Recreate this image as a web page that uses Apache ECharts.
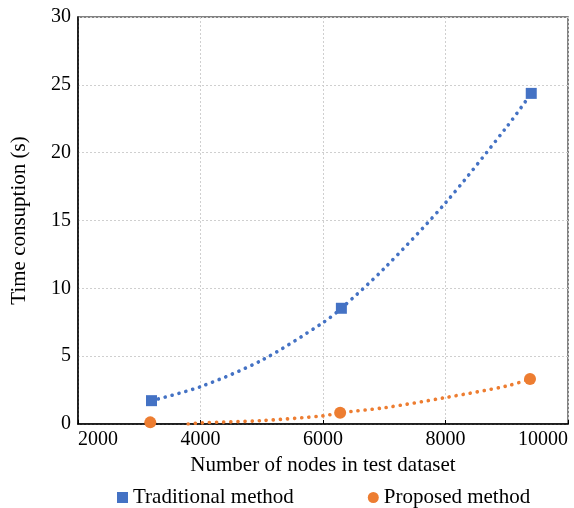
<!DOCTYPE html>
<html>
<head>
<meta charset="utf-8">
<script src="https://cdn.jsdelivr.net/npm/echarts@6/dist/echarts.min.js"></script>
<style>
  html, body { margin: 0; padding: 0; background: #fff; }
  #chart { width: 574px; height: 508px; }
</style>
</head>
<body>
<div id="chart"></div>
<script>
// measured points
var tradX = [3200, 6300, 9400];
var tradY = [1.72, 8.53, 24.37];
var propX = [3180, 6280, 9380];
var propY = [0.12, 0.83, 3.32];

// dotted trend lines
var tradTrendX = [3200, 4000, 5000, 6000, 6300, 7000, 8000, 9000, 9400];
var tradTrendY = [1.72, 2.75, 4.7, 7.47, 8.53, 11.47, 16.3, 21.9, 24.37];
var propTrendX = [3800, 4000, 5000, 6000, 6280, 7000, 8000, 9000, 9380];
var propTrendY = [0, 0.08, 0.25, 0.6, 0.83, 1.2, 1.95, 2.8, 3.32];

var blue = "#4472C4";
var orange = "#ED7D31";
var font = "'Liberation Serif', 'Times New Roman', serif";

function pairs(xs, ys) {
  return xs.map(function (x, i) { return [x, ys[i]]; });
}

var chart = echarts.init(document.getElementById("chart"));
chart.setOption({
  animation: false,
  textStyle: { fontFamily: font },
  grid: {
    left: 78, right: 6, top: 17, bottom: 84,
    show: true, borderColor: "#595959", borderWidth: 1.5
  },
  legend: {
    left: 112, top: 482,
    itemGap: 74, itemWidth: 11, itemHeight: 11,
    textStyle: { fontFamily: font, fontSize: 21, color: "#000" },
    data: [
      { name: "Traditional method", icon: "rect" },
      { name: "Proposed method", icon: "circle" }
    ]
  },
  xAxis: {
    type: "value",
    min: 2000, max: 10000, interval: 2000,
    name: "Number of nodes in test dataset",
    nameLocation: "middle", nameGap: 31,
    nameTextStyle: { fontFamily: font, fontSize: 21, color: "#000" },
    axisLine: { lineStyle: { color: "#000", width: 1.5 } },
    axisTick: { show: true, inside: true, length: 4, lineStyle: { color: "#000" } },
    axisLabel: {
      fontFamily: font, fontSize: 20, color: "#000", margin: 6,
      alignMinLabel: "left", alignMaxLabel: "right",
      formatter: function (v) { return String(v); }
    },
    splitLine: { show: true, lineStyle: { color: "#cfcfcf", type: [2, 2] } }
  },
  yAxis: {
    type: "value",
    min: 0, max: 30, interval: 5,
    name: "Time consuption (s)",
    nameLocation: "middle", nameGap: 48,
    nameTextStyle: { fontFamily: font, fontSize: 21, color: "#000" },
    axisLine: { show: true, lineStyle: { color: "#000", width: 1.5 } },
    axisTick: { show: false },
    axisLabel: { fontFamily: font, fontSize: 20, color: "#000", margin: 7 },
    splitLine: { show: true, lineStyle: { color: "#cfcfcf", type: [2, 2] } }
  },
  series: [
    {
      name: "trad-trend", type: "line", smooth: 0.3, showSymbol: false, silent: true,
      data: pairs(tradTrendX, tradTrendY),
      lineStyle: { color: blue, width: 3.6, type: [0.1, 7], cap: "round" }
    },
    {
      name: "prop-trend", type: "line", smooth: 0.3, showSymbol: false, silent: true,
      data: pairs(propTrendX, propTrendY),
      lineStyle: { color: orange, width: 3.6, type: [0.1, 7], cap: "round" }
    },
    {
      name: "Traditional method", type: "scatter", symbol: "rect", symbolSize: 11,
      itemStyle: { color: blue, opacity: 1 },
      data: pairs(tradX, tradY), z: 5
    },
    {
      name: "Proposed method", type: "scatter", symbol: "circle", symbolSize: 12,
      itemStyle: { color: orange, opacity: 1 },
      data: pairs(propX, propY), z: 5
    }
  ]
});
</script>
</body>
</html>
